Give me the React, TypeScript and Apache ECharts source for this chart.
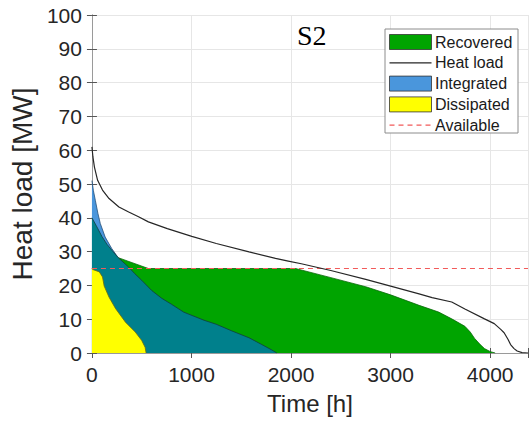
import React, { useEffect, useRef } from "react";
import * as echarts from "echarts";

// ---- data (hours, MW) ----
const heatLoadHours = [0, 10, 25, 57, 106, 172, 271, 369, 468, 567, 757, 1003, 1249, 1578, 1844, 1972, 2103, 2399, 2750, 3000, 3286, 3417, 3614, 3746, 3943, 4041, 4106, 4140, 4180, 4205, 4240, 4271, 4320, 4380];
const heatLoadMW = [61, 58, 55, 51.1, 48.2, 45.7, 43.2, 41.7, 40.3, 38.8, 36.8, 34.5, 32.4, 29.9, 28.0, 27.2, 26.4, 24.4, 21.8, 19.8, 17.5, 16.4, 15.1, 13.0, 10.1, 8.7, 7.0, 6.0, 4.0, 2.5, 1.3, 0.6, 0.1, 0];

const recoveredHours = [264, 567, 2045, 2400, 2750, 3000, 3286, 3483, 3614, 3746, 3800, 3844, 3900, 3943, 4002, 4050];
const recoveredMW = [28.2, 25, 25, 22.3, 19.6, 17.2, 14.1, 12.1, 10.1, 7.9, 6.2, 4.3, 2.5, 1.3, 0.4, 0];

const integratedHours = [0, 15, 34, 60, 84, 133, 199, 264];
const integratedMW = [51, 48, 45.2, 41.3, 38.3, 34.3, 30.9, 28.2];

const overlapHours = [0, 50, 100, 150, 200, 264, 369, 429, 500, 600, 700, 800, 921, 1125, 1249, 1400, 1578, 1700, 1800, 1857];
const overlapMW = [40, 37.3, 34.5, 32.2, 30.4, 28.2, 25.4, 23.5, 21.5, 18.5, 16.2, 14.4, 12.1, 9.7, 8.5, 6.6, 4.5, 2.6, 1.0, 0];

const dissipatedHours = [0, 8, 74, 106, 123, 172, 238, 337, 435, 500, 534, 544];
const dissipatedMW = [25, 24.7, 24.0, 22.5, 19.8, 16.5, 13.1, 9.1, 6.2, 3.7, 1.7, 0];

const availableHours = [0, 4380];
const availableMW = [25, 25];

const xTicks = [0, 1000, 2000, 3000, 4000];
const legendNames = ["Recovered", "Heat load", "Integrated", "Dissipated", "Available"];

const zip = (xs: number[], ys: number[]) => xs.map((x, i) => [x, ys[i]]);

const FONT = "Liberation Sans, Arial, Helvetica, sans-serif";
const GREEN = "#00a400";
const BLUE = "#4a96dc";
const TEAL = "#00808c";
const YELLOW = "#ffff00";
const RED = "#f25a5a";

export default function App() {
  const ref = useRef<HTMLDivElement>(null);
  useEffect(() => {
    if (!ref.current) return;
    const chart = echarts.init(ref.current, undefined, { renderer: "svg" });
    const gridLeft = 87, gridTop = 15, gridRight = 0, gridBottom = 71;
    const areaSeries = (name: string, data: number[][], fill: string, edge: string, z: number) => ({
      name,
      type: "line",
      data,
      showSymbol: false,
      symbol: "none",
      z,
      lineStyle: { color: edge, width: 0.8 },
      itemStyle: { color: fill },
      areaStyle: { color: fill, opacity: 1 },
      silent: true,
    });
    const lx = 385, ly = 29;
    const rowY = (i: number) => ly + 13 + i * 20.8;
    const legendGraphics: any[] = [
      {
        type: "rect",
        shape: { x: lx, y: ly, width: 133, height: 104 },
        style: { fill: "#fff", stroke: "#8c8c8c", lineWidth: 1 },
        z: 100,
      },
    ];
    const iconX = lx + 4.5, iconW = 42, iconH = 15;
    const icons: any[] = [
      { kind: "rect", fill: GREEN },
      { kind: "line", stroke: "#262626", dash: null },
      { kind: "rect", fill: BLUE },
      { kind: "rect", fill: YELLOW },
      { kind: "line", stroke: RED, dash: [5, 4] },
    ];
    icons.forEach((ic, i) => {
      const cy = rowY(i);
      if (ic.kind === "rect") {
        legendGraphics.push({
          type: "rect",
          shape: { x: iconX, y: cy - iconH / 2, width: iconW, height: iconH },
          style: { fill: ic.fill, stroke: "#333", lineWidth: 0.8 },
          z: 101,
        });
      } else {
        legendGraphics.push({
          type: "line",
          shape: { x1: iconX, y1: cy, x2: iconX + iconW, y2: cy },
          style: { stroke: ic.stroke, lineWidth: 1.2, lineDash: ic.dash || undefined },
          z: 101,
        });
      }
      legendGraphics.push({
        type: "text",
        x: iconX + iconW + 3.5,
        y: cy,
        style: {
          text: legendNames[i],
          font: `16px ${FONT}`,
          fill: "#1a1a1a",
          textVerticalAlign: "middle",
          textAlign: "left",
        },
        z: 101,
      });
    });
    legendGraphics.push({
      type: "text",
      x: 297,
      y: 35,
      style: {
        text: "S2",
        font: `28px "Liberation Serif", "Times New Roman", serif`,
        fill: "#000",
        textVerticalAlign: "middle",
        textAlign: "left",
      },
      z: 99,
    });

    const axisCommon = {
      axisLine: { show: true, lineStyle: { color: "#9a9a9a", width: 1 } },
      axisTick: { show: true, inside: true, length: 5, lineStyle: { color: "#555" } },
    };

    chart.setOption({
      animation: false,
      backgroundColor: "#fff",
      grid: { left: gridLeft, right: gridRight, top: gridTop, bottom: gridBottom, containLabel: false },
      xAxis: [
        {
          type: "value",
          min: 0,
          max: 4380,
          interval: 1000,
          position: "bottom",
          name: "Time [h]",
          nameLocation: "middle",
          nameGap: 38,
          nameTextStyle: { fontFamily: FONT, fontSize: 24, color: "#262626" },
          ...axisCommon,
          axisLabel: {
            fontFamily: FONT,
            fontSize: 21,
            color: "#262626",
            margin: 11,
            formatter: (v: number) => (xTicks.includes(v) ? String(v) : ""),
          },
          splitLine: { show: true, lineStyle: { color: "#e6e6e6", width: 1 } },
        },
        {
          type: "value",
          min: 0,
          max: 4380,
          interval: 1000,
          position: "top",
          ...axisCommon,
          axisLabel: { show: false },
          splitLine: { show: false },
        },
      ],
      yAxis: [
        {
          type: "value",
          min: 0,
          max: 100,
          interval: 10,
          position: "left",
          name: "Heat load [MW]",
          nameLocation: "middle",
          nameGap: 47,
          nameRotate: 90,
          nameTextStyle: { fontFamily: FONT, fontSize: 28, color: "#262626" },
          ...axisCommon,
          axisLabel: { fontFamily: FONT, fontSize: 21, color: "#262626", margin: 10 },
          splitLine: { show: true, lineStyle: { color: "#e6e6e6", width: 1 } },
        },
        {
          type: "value",
          min: 0,
          max: 100,
          interval: 10,
          position: "right",
          ...axisCommon,
          axisLabel: { show: false },
          splitLine: { show: false },
        },
      ],
      series: [
        areaSeries("Recovered", zip(recoveredHours, recoveredMW), GREEN, "#0a6a0a", 2),
        areaSeries("Integrated", zip(integratedHours, integratedMW), BLUE, "#244f78", 3),
        areaSeries("Overlap", zip(overlapHours, overlapMW), TEAL, "#123c3c", 4),
        areaSeries("Dissipated", zip(dissipatedHours, dissipatedMW), YELLOW, "#6b6b10", 5),
        {
          name: "Available",
          type: "line",
          data: zip(availableHours, availableMW),
          showSymbol: false,
          symbol: "none",
          z: 6,
          lineStyle: { color: RED, width: 1.1, type: [5, 4] },
          silent: true,
        },
        {
          name: "Heat load",
          type: "line",
          data: zip(heatLoadHours, heatLoadMW),
          showSymbol: false,
          symbol: "none",
          z: 7,
          lineStyle: { color: "#262626", width: 1.2 },
          silent: true,
        },
      ],
      graphic: legendGraphics,
    });
    return () => chart.dispose();
  }, []);
  return (
    <div
      ref={ref}
      style={{ position: "absolute", left: 0, top: 0, width: 531, height: 424 }}
    />
  );
}
